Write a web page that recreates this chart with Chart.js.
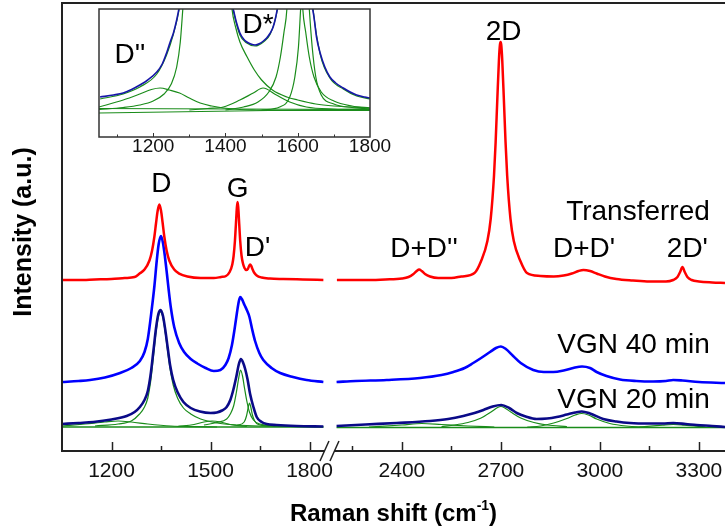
<!DOCTYPE html>
<html>
<head>
<meta charset="utf-8">
<script src="https://cdn.jsdelivr.net/npm/chart.js@4.4.0/dist/chart.umd.min.js"></script>
<style>
  html, body { margin: 0; padding: 0; background: #fff; }
  #wrap { position: relative; width: 725px; height: 529px; overflow: hidden; background: #fff; }
  #main { position: absolute; left: 0; top: 0; }
  #inset { position: absolute; left: 60px; top: 0; }
</style>
</head>
<body>
<div id="wrap">
  <canvas id="main" width="725" height="529"></canvas>
  <canvas id="inset" width="340" height="165"></canvas>
</div>
<script>
// ---- data (Raman shift in cm-1, intensity in a.u. with vertical offsets) ----

// axis ticks
const ticksLow = [1200, 1350, 1500, 1650, 1800];
const ticksHigh = [2250, 2400, 2550, 2700, 2850, 3000, 3150, 3300];
const ticksInset = [1100, 1200, 1300, 1400, 1500, 1600, 1700, 1800];

// Transferred
const shiftRedL = [1050,1100,1150,1200,1240,1270,1285,1300,1315,1323,1330,1335,1340,1345,1350,1355,1360,1367,1375,1390,1405,1430,1470,1510,1532,1547,1558,1566,1570,1574,1577,1579,1580,1582,1584,1585,1587,1590,1594,1598,1603,1608,1613,1617,1620,1623,1627,1632,1640,1655,1680,1720,1780,1842];
const redL = [171,171,171.5,172,173,174,177.4,181.4,190.5,200.5,214.5,228,240.5,246.5,240.5,228,214.5,200.5,190.5,181.4,177.4,174.5,173,173,174,175,179,186.6,195,210,227,239,244,249,244,239,227,210,195.5,188,183,181,182,185,186.5,185.5,182,178.5,175.5,173.5,172.5,172,171.5,171];
const shiftRedR = [2203,2250,2300,2350,2400,2420,2435,2445,2452,2460,2470,2485,2510,2550,2580,2620,2640,2659,2669,2679,2684,2689,2694,2697,2699,2701,2704,2709,2714,2719,2729,2739,2759,2779,2820,2860,2890,2915,2935,2950,2970,2990,3015,3050,3100,3150,3200,3222,3235,3243,3250,3257,3265,3278,3300,3340,3379];
const redR = [171,171,171,171.5,172.5,174,177,180,181.5,180,177,174.5,173,173,174.5,178,190,210,232,275,309,351,391,406,409,406,391,351,309,275,232,210,190,178,175,174.5,175.5,177.5,180,181,180,177.5,174.5,172,170.5,169.5,169.5,171,174,179,184,179,174,171,169.5,168.5,168];

// VGN 40 min
const shiftB40L = [1050,1100,1135,1180,1226,1260,1286,1300,1310,1322,1330,1337,1343,1350,1356,1362,1368,1374,1380,1390,1405,1420,1440,1460,1485,1510,1530,1545,1555,1565,1573,1580,1586,1590,1595,1603,1610,1618,1626,1635,1648,1660,1685,1711,1750,1791,1842];
const b40L = [69,70,71,73.5,78,83,90,99,112,142,165,190,207,215,208,194,177,159,143,124,108,99,92,87.5,83,80,81,86,93,106,122,138,150,154,152,146,141,134,122,110,98,91,83,78,74,71,69];
const shiftB40R = [2202,2260,2354,2455,2520,2556,2590,2616,2640,2667,2685,2700,2715,2737,2760,2798,2830,2859,2890,2919,2946,2970,2990,3020,3061,3110,3161,3200,3222,3250,3300,3379];
const b40R = [69,70,71,73,76,79,83,88,93,99,103,104.5,102,95,88,81,79,79,80.5,83,84.5,83,79,75,71.5,70,69.5,70,71,70.5,69,68];

// VGN 20 min
const shiftB20L = [1050,1100,1145,1200,1246,1270,1286,1300,1310,1318,1327,1335,1342,1349,1356,1363,1370,1378,1387,1400,1418,1440,1468,1500,1519,1535,1549,1560,1569,1578,1586,1592,1598,1605,1612,1620,1630,1640,1655,1670,1700,1760,1842];
const b20L = [27,28,29,31.5,35,39,44,51,60,75,100,123,137,141,135,121,104,85,71,59,49,43,39.5,38,38.5,40.5,44,51,61,74,87,92,89,82,72,57,44,34,29,27,26,25,24.5];
const shiftB20R = [2202,2290,2384,2485,2540,2586,2620,2647,2675,2701,2725,2748,2775,2808,2840,2869,2900,2925,2945,2970,3010,3050,3091,3150,3190,3222,3260,3293,3340,3379];
const b20R = [25,26.5,28,30,32,35,38,41,44.5,46,43,38,34.5,32,32.5,34,36.5,38.5,39.5,37.5,32,29.5,28,27.5,27.5,28,27,26,25,24];

// fitted components of VGN 20 min
const shiftBaseL = [1050,1842];
const baseL = [24,24];
const shiftBaseR = [2202,3379];
const baseR = [23.5,23.5];
const shiftFitDpp = [1050,1120,1180,1220,1260,1310,1380,1450,1520];
const fitDpp = [25,27,29,30,29,27,25,24.3,24];
const shiftFitD = [1150,1220,1260,1285,1300,1310,1318,1327,1335,1342,1349,1356,1363,1370,1378,1387,1400,1418,1440,1470,1520,1580,1650,1750,1842];
const fitD = [25,27,30,37,44,53,68,94,119,134,139,133,118,100,81,66,53,43,37,32,28,26,25,24.5,24.2];
const shiftFitDstar = [1400,1450,1480,1505,1530,1560,1610];
const fitDstar = [24.5,26.5,29,30,29,26.5,24.5];
const shiftFitG = [1480,1520,1549,1560,1570,1578,1585,1591,1597,1603,1610,1618,1630,1650,1700];
const fitG = [26,28.5,32,37,45,58,72,81,75,63,50,39,31,27,25];
const shiftFitDp = [1580,1602,1609,1614,1618,1622,1627,1634,1645,1680];
const fitDp = [25.5,29,35,43,48,44,36,30,26.5,25];
const shiftFitDDpp = [2300,2400,2460,2520,2600,2680];
const fitDDpp = [24,26,27.5,26.5,25,24];
const shiftFit2D = [2520,2560,2600,2640,2670,2690,2700,2712,2730,2760,2800,2840,2900];
const fit2D = [24.5,26,28.5,33,39,43.5,44.5,43,39,33,28.5,26,24.5];
const shiftFitDDp = [2780,2820,2860,2900,2925,2945,2965,2990,3030,3080,3140];
const fitDDp = [24,25,28,32.5,36,37.5,36,32,27.5,25,24];
const shiftFit2Dp = [3120,3190,3222,3255,3320];
const fit2Dp = [24,25.8,26.5,25.8,24];

// inset: VGN 20 min, 1050-1800 zoomed
const shiftInset = [1053,1090,1117,1140,1163,1185,1210,1225,1237,1247,1256,1265,1272,1280,1290,1349,1400,1415,1422,1430,1440,1450,1459,1470,1482,1495,1505,1514,1524,1532,1538,1543,1550,1570,1594,1620,1640,1645,1652,1662,1675,1689,1705,1726,1745,1763,1785,1800];
const inset20 = [40,42,44,47.5,52,57,65,73,84,95,104,117,130,150,180,490,170,135,127,115,104,98,95,93,92,93.5,96,99,104,110,118,127,140,200,300,220,132,120,100,84,70,60,54,49,45,42,40,39];
const shiftInsetSum = [1053,1117,1163,1210,1237,1256,1272,1290,1349,1400,1422,1440,1459,1482,1505,1524,1543,1570,1594,1620,1643,1662,1689,1726,1763,1800];
const insetSum = [38,43,50,63,82,103,128,178,485,168,126,102,94,91,95,103,126,198,295,218,126,83,59,48,41,38];
const shiftInsetDpp = [1050,1117,1163,1195,1219,1245,1273,1300,1330,1362,1394,1440,1486,1560,1650,1800];
const insetDpp = [30,37,43,47.5,49,47,44,39,34,31,29,27.5,27,26.5,26.5,26.5];
const shiftInsetD = [1050,1117,1163,1200,1230,1250,1265,1275,1282,1295,1349,1405,1418,1428,1440,1460,1480,1500,1530,1570,1600,1650,1700,1800];
const insetD = [27.5,29.5,32,36,43,53,70,95,128,190,480,185,128,110,95,80,67,57,47,40,37,33,31,29];
const shiftInsetDstar = [1300,1350,1394,1440,1477,1504,1541,1578,1624,1700,1800];
const insetDstar = [27,28.5,30,37,44,49,42,35,30,28,27.5];
const shiftInsetG = [1400,1450,1490,1520,1540,1552,1562,1570,1592,1614,1622,1632,1645,1665,1700,1750,1800];
const insetG = [27,30,35,45,60,80,105,128,310,128,105,80,60,45,36,31,29];
const shiftInsetDp = [1500,1550,1578,1592,1602,1608,1620,1632,1640,1650,1665,1700,1750,1800];
const insetDp = [27,30,40,60,90,128,200,128,90,60,42,33,29.5,28];
const shiftInsetBase = [1050,1800];
const insetBaseA = [24,28];
const insetBaseB = [28.5,27.5];

// ---- styling ----
const FONT = '"Liberation Sans", Arial, sans-serif';
const RED = '#ff0000';
const BLUE = '#0000ff';
const NAVY = '#0a0a88';
const GREEN = '#1a8c1a';

function series(xs, ys) {
    return xs.map((x, i) => ({ x: x, y: ys[i] }));
}

function spectrum(xs, ys, axis, color, width) {
    return {
        data: series(xs, ys),
        xAxisID: axis,
        yAxisID: 'y',
        borderColor: color,
        borderWidth: width,
        pointRadius: 0,
        fill: false,
        cubicInterpolationMode: 'monotone'
    };
}

// the broken x axis: two bottom scales stacked side by side, same cm-1 per pixel
function bottomAxis(min, max, weight, tickList) {
    return {
        type: 'linear',
        position: 'bottom',
        stack: 'raman',
        stackWeight: weight,
        min: min,
        max: max,
        afterBuildTicks: s => { s.ticks = tickList.map(v => ({ value: v })); },
        afterFit: s => { s.height = 78; s.paddingLeft = 0; s.paddingRight = 0; },
        grid: { display: false, drawTicks: false },
        border: { display: true, color: '#222', width: 2 },
        ticks: {
            autoSkip: false,
            maxRotation: 0,
            minRotation: 0,
            padding: 8,
            color: '#111',
            font: { family: FONT, size: 21 },
            callback: v => (v % 300 === 0 ? String(v) : '')
        }
    };
}

// annotations: [text, axis, shift, intensity, align]
const peakLabels = [
    ['D', 'xl', 1351, 259, 'center'],
    ['G', 'xl', 1582, 254, 'center'],
    ["D'", 'xl', 1604, 195, 'left'],
    ['2D', 'xr', 2708, 411, 'center'],
    ["D+D''", 'xr', 2467, 194, 'center'],
    ["D+D'", 'xr', 2952, 194, 'center'],
    ["2D'", 'xr', 3265, 194, 'center'],
    ['Transferred', 'xr', 3333, 231, 'right'],
    ['VGN 40 min', 'xr', 3333, 98, 'right'],
    ['VGN 20 min', 'xr', 3333, 43, 'right']
];

const mainDecor = {
    id: 'mainDecor',
    afterDraw(chart) {
        const ctx = chart.ctx;
        const area = chart.chartArea;
        const xl = chart.scales.xl;
        const xr = chart.scales.xr;
        const y = chart.scales.y;
        ctx.save();
        // frame
        ctx.strokeStyle = '#222';
        ctx.lineWidth = 2;
        ctx.beginPath();
        ctx.moveTo(area.left, area.bottom + 1);
        ctx.lineTo(area.left, area.top);
        ctx.lineTo(area.right, area.top);
        ctx.stroke();
        // ticks pointing inside
        ctx.lineWidth = 1.5;
        [xl, xr].forEach(sc => {
            sc.ticks.forEach(t => {
                const px = Math.round(sc.getPixelForValue(t.value)) + 0.5;
                if (px <= sc.left + 3 || px >= sc.right - 3) return;
                const len = t.value % 300 === 0 ? 9 : 5;
                ctx.beginPath();
                ctx.moveTo(px, area.bottom);
                ctx.lineTo(px, area.bottom - len);
                ctx.stroke();
            });
        });
        // axis break
        const bx = xr.left;
        ctx.fillStyle = '#fff';
        ctx.fillRect(bx - 5, area.bottom - 2, 9, 4);
        ctx.beginPath();
        ctx.moveTo(bx - 10, area.bottom + 10);
        ctx.lineTo(bx - 1, area.bottom - 10);
        ctx.moveTo(bx, area.bottom + 10);
        ctx.lineTo(bx + 9, area.bottom - 10);
        ctx.stroke();
        // peak and sample labels
        ctx.fillStyle = '#000';
        ctx.font = '28px ' + FONT;
        ctx.textBaseline = 'alphabetic';
        peakLabels.forEach(([text, axis, sx, sy, align]) => {
            ctx.textAlign = align;
            ctx.fillText(text, chart.scales[axis].getPixelForValue(sx), y.getPixelForValue(sy));
        });
        // x title with superscript
        ctx.font = 'bold 24px ' + FONT;
        const part1 = 'Raman shift (cm';
        const part3 = ')';
        const w1 = ctx.measureText(part1).width;
        const w3 = ctx.measureText(part3).width;
        ctx.font = 'bold 14px ' + FONT;
        const w2 = ctx.measureText('-1').width;
        const total = w1 + w2 + w3;
        const cx = (area.left + area.right) / 2;
        const tx = cx - total / 2;
        const ty = 521;
        ctx.textAlign = 'left';
        ctx.font = 'bold 24px ' + FONT;
        ctx.fillText(part1, tx, ty);
        ctx.font = 'bold 14px ' + FONT;
        ctx.fillText('-1', tx + w1, ty - 11);
        ctx.font = 'bold 24px ' + FONT;
        ctx.fillText(part3, tx + w1 + w2, ty);
        // y title
        ctx.font = 'bold 25px ' + FONT;
        ctx.translate(31, 232);
        ctx.rotate(-Math.PI / 2);
        ctx.textAlign = 'center';
        ctx.fillText('Intensity (a.u.)', 0, 0);
        ctx.restore();
    }
};

new Chart(document.getElementById('main'), {
    type: 'line',
    data: {
        datasets: [
            spectrum(shiftRedL, redL, 'xl', RED, 2.5),
            spectrum(shiftRedR, redR, 'xr', RED, 2.5),
            spectrum(shiftB40L, b40L, 'xl', BLUE, 2.6),
            spectrum(shiftB40R, b40R, 'xr', BLUE, 2.6),
            spectrum(shiftB20L, b20L, 'xl', NAVY, 2.6),
            spectrum(shiftB20R, b20R, 'xr', NAVY, 2.6),
            spectrum(shiftFitD, fitD, 'xl', GREEN, 1.2),
            spectrum(shiftFitG, fitG, 'xl', GREEN, 1.2),
            spectrum(shiftFitDp, fitDp, 'xl', GREEN, 1.2),
            spectrum(shiftFitDpp, fitDpp, 'xl', GREEN, 1.2),
            spectrum(shiftFitDstar, fitDstar, 'xl', GREEN, 1.2),
            spectrum(shiftBaseL, baseL, 'xl', GREEN, 1.6),
            spectrum(shiftFit2D, fit2D, 'xr', GREEN, 1.2),
            spectrum(shiftFitDDp, fitDDp, 'xr', GREEN, 1.2),
            spectrum(shiftFitDDpp, fitDDpp, 'xr', GREEN, 1.2),
            spectrum(shiftFit2Dp, fit2Dp, 'xr', GREEN, 1.2),
            spectrum(shiftBaseR, baseR, 'xr', GREEN, 1.6)
        ]
    },
    options: {
        responsive: false,
        animation: false,
        devicePixelRatio: 1,
        layout: { autoPadding: false, padding: { left: 62, top: 3, right: 0, bottom: 0 } },
        plugins: { legend: { display: false }, tooltip: { enabled: false } },
        scales: {
            xl: bottomAxis(1050, 1862, 812, ticksLow),
            xr: bottomAxis(2182, 3379, 1197, ticksHigh),
            y: { type: 'linear', display: false, min: 0, max: 448 }
        }
    },
    plugins: [mainDecor]
});

// ---- inset ----
const insetDecor = {
    id: 'insetDecor',
    beforeDraw(chart) {
        const a = chart.chartArea;
        chart.ctx.save();
        chart.ctx.fillStyle = '#fff';
        chart.ctx.fillRect(a.left, a.top, a.right - a.left, a.bottom - a.top);
        chart.ctx.restore();
    },
    afterDraw(chart) {
        const ctx = chart.ctx;
        const a = chart.chartArea;
        const x = chart.scales.x;
        const y = chart.scales.y;
        ctx.save();
        ctx.strokeStyle = '#333';
        ctx.lineWidth = 1.5;
        ctx.strokeRect(a.left, a.top, a.right - a.left, a.bottom - a.top);
        ctx.lineWidth = 1;
        x.ticks.forEach(t => {
            const px = Math.round(x.getPixelForValue(t.value)) + 0.5;
            if (px <= a.left + 2 || px >= a.right - 2) return;
            const len = t.value % 200 === 0 ? 4 : 2.5;
            ctx.beginPath();
            ctx.moveTo(px, a.bottom);
            ctx.lineTo(px, a.bottom - len);
            ctx.stroke();
        });
        ctx.fillStyle = '#000';
        ctx.font = '28px ' + FONT;
        ctx.textAlign = 'left';
        ctx.fillText("D''", x.getPixelForValue(1093), y.getPixelForValue(74));
        ctx.fillText('D*', x.getPixelForValue(1447), y.getPixelForValue(104));
        ctx.restore();
    }
};

new Chart(document.getElementById('inset'), {
    type: 'line',
    data: {
        datasets: [
            spectrum(shiftInset, inset20, 'x', '#1616a8', 1.6),
            spectrum(shiftInsetSum, insetSum, 'x', GREEN, 1.2),
            spectrum(shiftInsetD, insetD, 'x', GREEN, 1.2),
            spectrum(shiftInsetDpp, insetDpp, 'x', GREEN, 1.2),
            spectrum(shiftInsetDstar, insetDstar, 'x', GREEN, 1.2),
            spectrum(shiftInsetG, insetG, 'x', GREEN, 1.2),
            spectrum(shiftInsetDp, insetDp, 'x', GREEN, 1.2),
            spectrum(shiftInsetBase, insetBaseA, 'x', GREEN, 1.2),
            spectrum(shiftInsetBase, insetBaseB, 'x', GREEN, 1.2)
        ]
    },
    options: {
        responsive: false,
        animation: false,
        devicePixelRatio: 1,
        layout: { autoPadding: false, padding: { left: 39, top: 9, right: 30, bottom: 0 } },
        plugins: { legend: { display: false }, tooltip: { enabled: false } },
        scales: {
            x: {
                type: 'linear',
                min: 1050,
                max: 1800,
                afterBuildTicks: s => { s.ticks = ticksInset.map(v => ({ value: v })); },
                afterFit: s => { s.height = 28; s.paddingLeft = 0; s.paddingRight = 0; },
                grid: { display: false, drawTicks: false },
                border: { display: false },
                ticks: {
                    autoSkip: false,
                    maxRotation: 0,
                    minRotation: 0,
                    padding: 0,
                    color: '#111',
                    font: { family: FONT, size: 19, lineHeight: 1 },
                    callback: v => (v % 200 === 0 ? String(v) : '')
                }
            },
            y: { type: 'linear', display: false, min: 0, max: 128 }
        }
    },
    plugins: [insetDecor]
});
</script>
</body>
</html>
